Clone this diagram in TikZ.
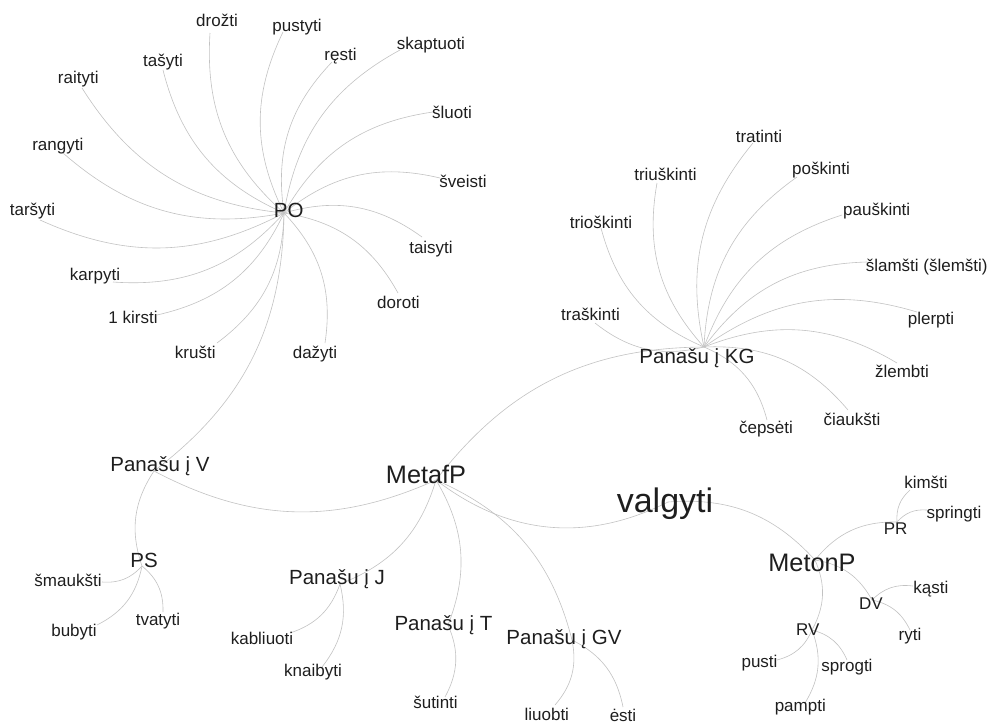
\documentclass[tikz,border=0pt]{standalone}
\usepackage{fontspec}
\setmainfont{Liberation Sans}
\definecolor{edgec}{HTML}{C2C2C2}
\definecolor{txt}{HTML}{1E1E1E}
\tikzset{
  lbl/.style={inner sep=0pt, anchor=base, text=txt, font=\fontsize{17}{17}\selectfont},
  midlbl/.style={lbl, font=\fontsize{20.5}{20.5}\selectfont},
  biglbl/.style={lbl, font=\fontsize{25.3}{25.3}\selectfont},
  hugelbl/.style={lbl, font=\fontsize{34}{34}\selectfont},
  link/.style={draw=edgec, line width=0.6pt, bend left=26},
}
\begin{document}
\begin{tikzpicture}[x=1pt,y=-1pt]
\useasboundingbox (0,0) rectangle (991,724);
% graph points (hubs)
\coordinate (PO) at (284,213);
\coordinate (KG) at (704,347);
\coordinate (MetafP) at (436,480);
\coordinate (valgyti) at (668,502);
\coordinate (V) at (154,471);
\coordinate (PS) at (142,566);
\coordinate (J) at (340,584);
\coordinate (T) at (448,625);
\coordinate (GV) at (572,640);
\coordinate (MetonP) at (815,560);
\coordinate (PR) at (897,522);
\coordinate (DV) at (872,600);
\coordinate (RV) at (812,630);
% leaf points
\coordinate (drozti) at (210,33);
\coordinate (pustyti) at (283,32);
\coordinate (resti) at (332,62);
\coordinate (skaptuoti) at (400,50);
\coordinate (sluoti) at (433,112);
\coordinate (sveisti) at (440,178);
\coordinate (taisyti) at (422,237);
\coordinate (doroti) at (398,293);
\coordinate (dazyti) at (325,343);
\coordinate (krusti) at (217,343);
\coordinate (kirsti) at (157,315);
\coordinate (karpyti) at (113,282);
\coordinate (tarsyti) at (40,220);
\coordinate (rangyti) at (63,153);
\coordinate (raityti) at (82,88);
\coordinate (tasyti) at (163,70);
\coordinate (tratinti) at (753,143);
\coordinate (triuskinti) at (657,183);
\coordinate (trioskinti) at (601,228);
\coordinate (poskinti) at (797,177);
\coordinate (pauskinti) at (842,215);
\coordinate (slamsti) at (867,262);
\coordinate (plerpti) at (917,312);
\coordinate (zlembti) at (897,363);
\coordinate (ciauksti) at (848,410);
\coordinate (cepseti) at (767,420);
\coordinate (traskinti) at (595,323);
\coordinate (smauksti) at (102,582);
\coordinate (bubyti) at (97,625);
\coordinate (tvatyti) at (163,612);
\coordinate (kabliuoti) at (290,633);
\coordinate (knaibyti) at (322,667);
\coordinate (sutinti) at (445,697);
\coordinate (liuobti) at (555,705);
\coordinate (esti) at (623,707);
\coordinate (kimsti) at (910,490);
\coordinate (springti) at (927,510);
\coordinate (kasti) at (913,586);
\coordinate (ryti) at (910,630);
\coordinate (pusti) at (777,660);
\coordinate (sprogti) at (847,660);
\coordinate (pampti) at (805,703);
% connectors
\foreach \t in {drozti,pustyti,resti,skaptuoti,sluoti,sveisti,taisyti,doroti,dazyti,krusti,kirsti,karpyti,tarsyti,rangyti,raityti,tasyti,V}
  \draw[link] (PO) to (\t);
\foreach \t in {tratinti,triuskinti,trioskinti,poskinti,pauskinti,slamsti,plerpti,zlembti,ciauksti,cepseti,traskinti}
  \draw[link] (KG) to (\t);
\foreach \t in {KG,V,J,T,GV}
  \draw[link] (MetafP) to (\t);
\draw[link, bend left=32] (valgyti) to (MetafP);
\draw[link] (valgyti) to (MetonP);
\draw[link] (PS) to (V);
\foreach \t in {smauksti,bubyti,tvatyti} \draw[link] (PS) to (\t);
\foreach \t in {kabliuoti,knaibyti} \draw[link] (J) to (\t);
\draw[link] (T) to (sutinti);
\foreach \t in {liuobti,esti} \draw[link] (GV) to (\t);
\foreach \t in {PR,DV,RV} \draw[link] (MetonP) to (\t);
\foreach \t in {kimsti,springti} \draw[link] (PR) to (\t);
\foreach \t in {kasti,ryti} \draw[link] (DV) to (\t);
\foreach \t in {pusti,sprogti,pampti} \draw[link] (RV) to (\t);
% labels
\node[midlbl] (tPO) at (288.7,217.7) {PO};
\node[midlbl] (tKG) at (697,363.3) {Panašu į KG};
\node[biglbl] (tMetafP) at (426,483.3) {MetafP};
\node[hugelbl] (tvalgyti) at (665,512.7) {valgyti};
\node[midlbl] (tV) at (160,471.7) {Panašu į V};
\node[midlbl] (tPS) at (144,567.7) {PS};
\node[midlbl] (tJ) at (337,584) {Panašu į J};
\node[midlbl] (tT) at (443.5,630.7) {Panašu į T};
\node[midlbl] (tGV) at (564,644) {Panašu į GV};
\node[biglbl] (tMetonP) at (812,571.7) {MetonP};
\node[lbl] (tPR) at (895.7,534) {PR};
\node[lbl] (tDV) at (871,609) {DV};
\node[lbl] (tRV) at (807.7,635) {RV};
\node[lbl] (tdrozti) at (217,26.7) {drožti};
\node[lbl] (tpustyti) at (297,31.7) {pustyti};
\node[lbl] (tresti) at (340.5,60) {ręsti};
\node[lbl] (tskaptuoti) at (431,49.3) {skaptuoti};
\node[lbl] (tsluoti) at (452,118.3) {šluoti};
\node[lbl] (tsveisti) at (463,187.7) {šveisti};
\node[lbl] (ttaisyti) at (431,253.3) {taisyti};
\node[lbl] (tdoroti) at (398.5,308.3) {doroti};
\node[lbl] (tdazyti) at (315,358.3) {dažyti};
\node[lbl] (tkrusti) at (195.3,358.3) {krušti};
\node[lbl] (tkirsti) at (133,323.3) {1 kirsti};
\node[lbl] (tkarpyti) at (95,280) {karpyti};
\node[lbl] (ttarsyti) at (32.5,215) {taršyti};
\node[lbl] (trangyti) at (57.8,150) {rangyti};
\node[lbl] (traityti) at (78.3,83.3) {raityti};
\node[lbl] (ttasyti) at (163,66.7) {tašyti};
\node[lbl] (ttratinti) at (759,142.7) {tratinti};
\node[lbl] (ttriuskinti) at (665.5,180) {triuškinti};
\node[lbl] (ttrioskinti) at (601,228.3) {trioškinti};
\node[lbl] (tposkinti) at (821,174) {poškinti};
\node[lbl] (tpauskinti) at (876.7,215) {pauškinti};
\node[lbl] (tslamsti) at (926.7,271.7) {šlamšti (šlemšti)};
\node[lbl] (tplerpti) at (931,324) {plerpti};
\node[lbl] (tzlembti) at (902,377.3) {žlembti};
\node[lbl] (tciauksti) at (852,425) {čiaukšti};
\node[lbl] (tcepseti) at (766,433.3) {čepsėti};
\node[lbl] (ttraskinti) at (590.5,320.7) {traškinti};
\node[lbl] (tsmauksti) at (68,586.7) {šmaukšti};
\node[lbl] (tbubyti) at (74,636.7) {bubyti};
\node[lbl] (ttvatyti) at (158,625) {tvatyti};
\node[lbl] (tkabliuoti) at (262,644.3) {kabliuoti};
\node[lbl] (tknaibyti) at (313,676) {knaibyti};
\node[lbl] (tsutinti) at (435.5,708.3) {šutinti};
\node[lbl] (tliuobti) at (546.8,720) {liuobti};
\node[lbl] (testi) at (623,721.7) {ėsti};
\node[lbl] (tkimsti) at (926,488.3) {kimšti};
\node[lbl] (tspringti) at (954,518.3) {springti};
\node[lbl] (tkasti) at (930.8,593.3) {kąsti};
\node[lbl] (tryti) at (910,640) {ryti};
\node[lbl] (tpusti) at (759.5,667.7) {pusti};
\node[lbl] (tsprogti) at (847,671.7) {sprogti};
\node[lbl] (tpampti) at (800.3,711.7) {pampti};
\end{tikzpicture}
\end{document}
